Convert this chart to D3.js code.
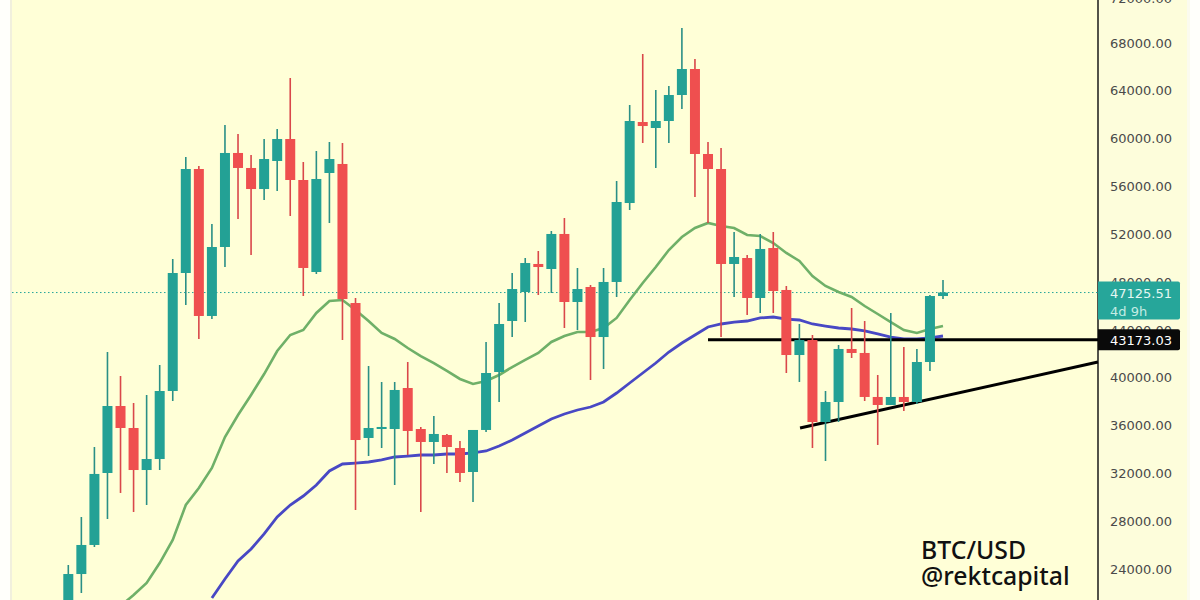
<!DOCTYPE html>
<html lang="en">

<head>
    <meta charset="UTF-8">
    <title>BTC/USD</title>
    <script src="https://d3js.org/d3.v7.min.js"></script>
    <style>
        html, body { margin: 0; padding: 0; background: #fff; }
        svg { display: block; }
    </style>
</head>

<body>
    <div id="plot-container"></div>

    <script>
        // weekly candles
        const opens = [20740, 23580, 26010, 32030, 37635, 35795, 32280, 33200, 38890, 48760,
            57460, 45165, 50935, 58800, 57545, 55785, 58130, 59970, 56540, 48845,
            57125, 57880, 46250, 34960, 35710, 35710, 39140, 35710, 34625, 35210,
            34120, 32115, 35630, 40480, 44745, 47170, 49515, 49095, 52025, 46335,
            47590, 43405, 48010, 54615, 61390, 60890, 61475, 63650, 65825, 58715,
            57460, 49515, 50015, 46670, 50850, 47340, 41900, 43155, 36295, 37970,
            42405, 42070, 38390, 37720, 38390, 37970, 41315, 46835];
        const highs = [24335, 28350, 34205, 42150, 40145, 37885, 38555, 41065, 49930, 58465,
            57710, 52860, 61140, 60390, 58630, 59970, 60805, 65070, 58045, 58965,
            59720, 59635, 46670, 40980, 39645, 39645, 41315, 35880, 36800, 35295,
            34705, 35630, 42990, 46250, 48760, 50015, 50600, 52275, 53360, 49180,
            47755, 49180, 56455, 62815, 67080, 64070, 64405, 69255, 66660, 59720,
            59215, 52190, 50265, 52025, 52190, 47675, 44495, 43575, 38890, 42740,
            45835, 44745, 40230, 45415, 42570, 42405, 46920, 48175];
        const lows = [19730, 21990, 25840, 28180, 30360, 28770, 29355, 32280, 38055, 46085,
            43240, 44910, 49260, 53280, 50265, 54865, 55620, 53530, 46835, 48675,
            52945, 43155, 28935, 33450, 34120, 31025, 33535, 28770, 32785, 32030,
            31280, 29605, 35460, 37970, 43405, 44660, 46920, 47085, 44160, 43990,
            39810, 40730, 46755, 54030, 59635, 57545, 59635, 62480, 55120, 52945,
            43405, 46755, 45245, 45415, 45415, 40395, 39645, 34120, 33035, 36295,
            41650, 38055, 34375, 37720, 37215, 37800, 40565, 46585];
        const closes = [23580, 26010, 31950, 37635, 35795, 32280, 33200, 38890, 48760, 57460,
            45165, 50935, 58800, 57545, 55785, 58295, 59970, 56540, 49180, 56625,
            58295, 46585, 34790, 35795, 35880, 38975, 35545, 34625, 35295, 34205,
            32030, 35630, 40395, 44495, 47420, 49595, 49260, 52025, 46335, 47420,
            43405, 48010, 54700, 61475, 61055, 61475, 63650, 65825, 58715, 57460,
            49515, 50100, 46670, 50770, 47255, 41900, 43155, 36295, 37970, 42405,
            42070, 38390, 37720, 38390, 37970, 41315, 46835, 47125.51];

        // moving averages, green one starts at candle 4, blue one at candle 11
        const greenStart = 4;
        const greenMA = [20905, 21825, 22830, 24500, 26425, 29355, 30775, 32450, 35040, 36880,
            38555, 40310, 42235, 43575, 43990, 45415, 46420, 46500, 45665, 44745,
            43740, 43240, 42485, 41815, 41230, 40565, 39895, 39475, 39725, 40230,
            40895, 41485, 42070, 42990, 43490, 43825, 43825, 44160, 45000, 46500,
            47925, 49260, 50685, 51770, 52525, 52945, 52690, 52525, 51940, 51855,
            51270, 50435, 49765, 48510, 47675, 47170, 46755, 46000, 45330, 44660,
            43990, 43740, 44075, 44325];
        const blueStart = 11;
        const blueMA = [21575, 23165, 24670, 25675, 26930, 28350, 29355, 30105, 31025, 32200,
            32785, 32865, 32950, 33120, 33370, 33450, 33535, 33535, 33620, 33620,
            33705, 33870, 34290, 34790, 35375, 35960, 36550, 36965, 37300, 37550,
            37970, 38720, 39560, 40395, 41230, 42150, 42905, 43575, 44245, 44495,
            44660, 44745, 45000, 45080, 44910, 44830, 44495, 44325, 44160, 44075,
            43910, 43660, 43405, 43240, 43240, 43325, 43490];

        const priceTicks = [72000, 68000, 64000, 60000, 56000, 52000, 48000, 44000, 40000, 36000, 32000, 28000, 24000];
        const lastPrice = 47125.51;
        const countdown = "4d 9h";
        const levelPrice = 43173.03;
        const levelFrom = 49;       // candle where the black level starts
        const trendFrom = [56.05, 35795];   // hand drawn trendline: candle, price
        const trendTo = [78.87, 41315];
        const captions = ["BTC/USD", "@rektcapital"];

        const width = 1200, height = 600;
        const plotLeft = 12, plotRight = 1098, axisRight = 1187;

        const x = d3.scaleLinear().domain([0, 67]).range([68.3, 943]);
        const y = d3.scaleLinear().domain([24000, 68000]).range([569, 43]);
        const bodyWidth = 10;

        const svg = d3.select("#plot-container")
            .append("svg")
            .attr("width", width)
            .attr("height", height);

        // backgrounds
        svg.append("rect").attr("x", 0).attr("y", 0).attr("width", width).attr("height", height).attr("fill", "#fffffb");
        svg.append("rect").attr("x", plotLeft - 2).attr("y", 0).attr("width", 2).attr("height", height).attr("fill", "#f1f0dd");
        svg.append("rect").attr("x", plotLeft).attr("y", 0).attr("width", plotRight - plotLeft).attr("height", height).attr("fill", "#ffffd7");
        svg.append("rect").attr("x", plotRight).attr("y", 0).attr("width", axisRight - plotRight).attr("height", height).attr("fill", "#fdfddb");
        svg.append("rect").attr("x", axisRight).attr("y", 0).attr("width", 3).attr("height", height).attr("fill", "#fbfbef");

        // price axis
        const axis = svg.append("g")
            .attr("transform", `translate(${plotRight},0)`)
            .call(d3.axisRight(y).tickValues(priceTicks).tickSize(0).tickPadding(12).tickFormat(d3.format(".2f")));
        axis.select(".domain").remove();
        axis.selectAll("text")
            .attr("fill", "#4a4a4a")
            .style("font-family", "'DejaVu Sans', sans-serif")
            .style("font-size", "13px");
        // top tick only just peeks in at the edge
        axis.selectAll("text").filter(d => d === 72000).attr("dy", ".55em");
        svg.append("line")
            .attr("x1", plotRight).attr("x2", plotRight)
            .attr("y1", 0).attr("y2", height)
            .attr("stroke", "#1a1a1a").attr("stroke-width", 1.5);

        // last price dotted line
        svg.append("line")
            .attr("x1", plotLeft).attr("x2", plotRight)
            .attr("y1", y(lastPrice)).attr("y2", y(lastPrice))
            .attr("stroke", "#26a69a")
            .attr("stroke-width", 1)
            .attr("stroke-dasharray", "1.5 2.5");

        // moving averages
        const line = d3.line().x(d => x(d.i)).y(d => y(d.v));
        svg.append("path")
            .attr("d", line(greenMA.map((v, i) => ({ i: i + greenStart, v: v }))))
            .attr("fill", "none").attr("stroke", "#6fb068").attr("stroke-width", 2.6);
        svg.append("path")
            .attr("d", line(blueMA.map((v, i) => ({ i: i + blueStart, v: v }))))
            .attr("fill", "none").attr("stroke", "#4848c4").attr("stroke-width", 2.8);

        // level and trendline
        svg.append("line")
            .attr("x1", x(levelFrom)).attr("x2", plotRight)
            .attr("y1", y(levelPrice)).attr("y2", y(levelPrice))
            .attr("stroke", "#000").attr("stroke-width", 3);
        svg.append("line")
            .attr("x1", x(trendFrom[0])).attr("y1", y(trendFrom[1]))
            .attr("x2", x(trendTo[0])).attr("y2", y(trendTo[1]))
            .attr("stroke", "#000").attr("stroke-width", 3);

        // candles
        const candles = svg.selectAll("g.candle")
            .data(d3.range(opens.length))
            .enter()
            .append("g")
            .attr("class", "candle");
        const candleColor = i => closes[i] >= opens[i] ? "#23a195" : "#ef4f4f";

        candles.append("line")
            .attr("x1", i => x(i)).attr("x2", i => x(i))
            .attr("y1", i => y(highs[i])).attr("y2", i => y(lows[i]))
            .attr("stroke", i => closes[i] >= opens[i] ? "#2a8f86" : "#d9474a")
            .attr("stroke-width", 1.6);
        candles.append("rect")
            .attr("x", i => x(i) - bodyWidth / 2)
            .attr("width", bodyWidth)
            .attr("y", i => y(Math.max(opens[i], closes[i])))
            .attr("height", i => Math.max(1.5, Math.abs(y(opens[i]) - y(closes[i]))))
            .attr("fill", candleColor);

        // price labels on the axis
        const tagWidth = 82;
        svg.append("path")
            .attr("d", `M${plotRight},${y(lastPrice) - 11}h${tagWidth - 2}q2,0 2,2v34q0,2 -2,2h-${tagWidth - 2}z`)
            .attr("fill", "#26a69a");
        svg.append("text")
            .attr("x", plotRight + 12).attr("y", y(lastPrice) + 5)
            .attr("fill", "#e4f7f2")
            .style("font-family", "'DejaVu Sans', sans-serif").style("font-size", "13px")
            .text(d3.format(".2f")(lastPrice));
        svg.append("text")
            .attr("x", plotRight + 12).attr("y", y(lastPrice) + 23)
            .attr("fill", "#c4ece4")
            .style("font-family", "'DejaVu Sans', sans-serif").style("font-size", "13px")
            .text(countdown);
        svg.append("path")
            .attr("d", `M${plotRight},${y(levelPrice) - 10.5}h${tagWidth - 2}q2,0 2,2v17q0,2 -2,2h-${tagWidth - 2}z`)
            .attr("fill", "#0a0a0a");
        svg.append("text")
            .attr("x", plotRight + 12).attr("y", y(levelPrice) + 5)
            .attr("fill", "#ffffff")
            .style("font-family", "'DejaVu Sans', sans-serif").style("font-size", "13px")
            .text(d3.format(".2f")(levelPrice));

        // caption
        svg.selectAll("text.caption")
            .data(captions)
            .enter()
            .append("text")
            .attr("class", "caption")
            .attr("x", 921)
            .attr("y", (d, i) => 559 + i * 26)
            .attr("fill", "#111")
            .style("font-family", "'Noto Sans', sans-serif")
            .style("font-weight", 500)
            .style("font-size", "24.8px")
            .text(d => d);
    </script>
</body>

</html>
